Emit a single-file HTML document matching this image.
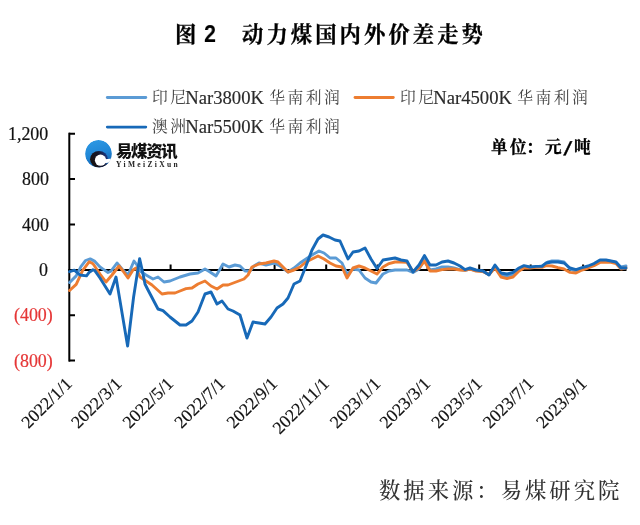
<!DOCTYPE html>
<html lang="zh">
<head>
<meta charset="utf-8">
<title>图2 动力煤国内外价差走势</title>
<style>
html,body{margin:0;padding:0;background:#fff;}
body{width:640px;height:525px;position:relative;overflow:hidden;font-family:"Liberation Serif","Noto Serif CJK SC",serif;}
.abs{position:absolute;white-space:nowrap;line-height:1;will-change:transform;}
.title{font-family:"Liberation Sans","Noto Serif CJK SC",serif;font-weight:700;font-size:21.3px;color:#000;letter-spacing:3.1px;top:25.1px;-webkit-text-stroke:0.3px #000;}
.leg{font-family:"Liberation Serif","Noto Serif CJK SC",serif;font-size:18.67px;color:#2a2a2a;}
.leg .c{font-size:15.8px;letter-spacing:2.4px;font-weight:400;position:absolute;top:1.2px;color:#444;}
.leg .n{position:absolute;top:0;-webkit-text-stroke:0.15px currentColor;}
.ylab{font-family:"Liberation Serif",serif;font-size:17.9px;color:#111;-webkit-text-stroke:0.2px currentColor;right:586.8px;text-align:right;}
.ylab.pos{padding-right:4.8px;}
.ylab.neg{color:#e53535;}
.unit{font-family:"Liberation Sans","Noto Serif CJK SC",serif;font-weight:700;font-size:16.6px;color:#000;letter-spacing:1.6px;-webkit-text-stroke:0.3px #000;}
.src{font-family:"Liberation Serif","Noto Serif CJK SC",serif;font-weight:500;font-size:21.33px;color:#333;letter-spacing:3px;}
.logo1{font-family:"Liberation Sans","Noto Sans CJK SC",sans-serif;font-weight:900;font-size:16.4px;color:#111;letter-spacing:-1.3px;}
.logo2{font-family:"Liberation Serif",serif;font-weight:700;font-size:7.5px;color:#222;letter-spacing:2.35px;}
</style>
</head>
<body>
<div class="abs title" style="left:175px;">图</div>
<div class="abs title" style="left:204px;font-family:'Liberation Sans',sans-serif;font-weight:700;font-size:23.5px;top:22.9px;-webkit-text-stroke:0;transform:scaleX(0.92);transform-origin:0 0;">2</div>
<div class="abs title" style="left:242.3px;">动力煤国内外价差走势</div>

<svg class="abs" style="left:0;top:0;" width="640" height="525" viewBox="0 0 640 525">
  <!-- legend lines -->
  <line x1="107.3" y1="97.5" x2="145.8" y2="97.5" stroke="#5b9bd5" stroke-width="2.8" stroke-linecap="round"/>
  <line x1="355" y1="97.5" x2="393.3" y2="97.5" stroke="#ed7d31" stroke-width="2.8" stroke-linecap="round"/>
  <line x1="107.3" y1="127.1" x2="145.8" y2="127.1" stroke="#1769b8" stroke-width="2.8" stroke-linecap="round"/>
  <!-- axes -->
  <g stroke="#000" stroke-width="2" fill="none">
    <path d="M69.3,132.7 V361.6"/>
    <path d="M69,133.7 H75 M69,179.1 H75 M69,224.5 H75 M69,315.2 H75 M69,360.6 H75"/>
    <path d="M68.3,269.9 H626.5"/>
    <path id="xt" d="M119.1,269.9 v-5.5 M170.6,269.9 v-5.5 M222.2,269.9 v-5.5 M274.6,269.9 v-5.5 M326.2,269.9 v-5.5 M377.7,269.9 v-5.5 M427.6,269.9 v-5.5 M479.2,269.9 v-5.5 M530.7,269.9 v-5.5 M583.1,269.9 v-5.5"/>
  </g>
  <g id="lines" fill="none" stroke-width="2.9" stroke-linejoin="round" stroke-linecap="round">
    <polyline stroke="#5b9bd5" points="69.6,282.5 76.2,275.9 80.9,266.6 85.6,260.5 90.2,258.9 94.9,261.4 100,267 103.4,269.4 108,272.5 111,271.2 117,263 122,269 128,275 134,261 137,265 140,271 146,275 153,279 158,277 164,282 170,281 180,277 190,274 198,273 205,269 210,272 216,276 223,264 229,267 235,265 240,266 245,271 250,271 254,266 259,263 266,265 274,263 280,266 284,269 288,272 294,268 300,263 306,259 312,255 319,251 324,253 330,258 336,258 342,263 347,274 353,269 359,270 365,278 371,282 376,283 383,274 389,271 395,270 401,270 407,270 413,272.4 419,269 424.4,260 430,270 436,269 442,267 448,267 454,268 460,269.6 465,270.4 470,269 476,270.5 483,271.3 489,274.6 495,266.5 501,275 507,276 513,274.5 519,269.5 524,266.5 530,267.5 536,267 542,266 548,262 552,261 558,261 564,262 570,269 576,271 582,268.6 588,267 594,264.6 600,261 606,260.6 611,261.4 616,262.6 621,267 626,266"/>
    <polyline stroke="#ed7d31" points="69.6,290.5 76.2,284.4 82.7,270.3 89.3,261.7 93,263.7 100,274 106,282 112,275 119,266 123,271 128,278 133,270 136,268 140,277 143,279 152,285 162,294 168,293 175,293 180,291 186,288.6 192,288 198,284 205,281 211,286 217,289 223,285 228,285 236,282 244,279 248,275 252,267 259,264 266,263 274,261 278,262 284,268 288,272 294,270 300,267 306,262 312,259 318,256 324,259 330,263 336,266 342,267 347,278 353,268 359,266 365,268 371,271 377,274 383,267 389,263.6 395,262 401,262 407,262.4 413,271.6 419,268 424.4,261 430,271 436,271 442,269.6 448,269 454,269 460,270 465,270.4 470,269 476,271 483,271.6 489,274.4 495,268 501,277 507,278.6 513,277 519,271 524,268 530,268 536,267.4 542,267.4 546,265.6 552,266 558,267.6 564,269 570,272.4 576,273 582,270 588,268 594,265.6 600,262.4 606,262 611,262.4 616,263.6 621,269 626,268"/>
    <polyline stroke="#1769b8" points="69.6,271.7 74.3,270.1 79.9,275 86.5,275.9 89.3,272.2 93,269.8 95,270.8 100,278 110,294 116,277 127.6,346 133.6,297 139.6,258.6 142.4,271 145,284 147.5,289 158,309 163,310.6 170,317 180,325 186,325 192,321 198,312 205,294 211,292 217,304 222,301 228,309 233,311 240,315 247,338 253,322 259,323 265,324 271,317 277,308 283,304 288,298 294,284 300,281 306,266 312,250 318,239 323,235 329,237 335,240 340,241 348,259 353,252 359,251 365,248 371,259 377,268.5 383,260 389,259 395,258 401,260 407,261 413,272 419,265 424.4,255.6 430,265 436,265 442,262 448,261 454,263 460,266 465,269.6 470,268 476,270 483,271 489,275 495,265 501,273 507,274 513,272.4 519,268 524,265.6 530,267 536,266.4 542,266.4 546,263 552,262 558,262 564,263 570,268 576,269.6 582,267.6 588,266 594,263.6 600,260 606,260 611,261 616,262 621,268 626,268"/>
  </g>
  <g id="xl" font-family="Liberation Serif, serif" font-size="17.7" fill="#111" stroke="#111" stroke-width="0.2" text-anchor="end">
    <text x="72.9" y="384.8" transform="rotate(-45 72.9 384.8)">2022/1/1</text>
    <text x="122.8" y="384.8" transform="rotate(-45 122.8 384.8)">2022/3/1</text>
    <text x="174.3" y="384.8" transform="rotate(-45 174.3 384.8)">2022/5/1</text>
    <text x="225.9" y="384.8" transform="rotate(-45 225.9 384.8)">2022/7/1</text>
    <text x="278.3" y="384.8" transform="rotate(-45 278.3 384.8)">2022/9/1</text>
    <text x="329.9" y="384.8" transform="rotate(-45 329.9 384.8)">2022/11/1</text>
    <text x="381.4" y="384.8" transform="rotate(-45 381.4 384.8)">2023/1/1</text>
    <text x="431.3" y="384.8" transform="rotate(-45 431.3 384.8)">2023/3/1</text>
    <text x="482.9" y="384.8" transform="rotate(-45 482.9 384.8)">2023/5/1</text>
    <text x="534.4" y="384.8" transform="rotate(-45 534.4 384.8)">2023/7/1</text>
    <text x="587.8" y="384.8" transform="rotate(-45 587.8 384.8)">2023/9/1</text>
  </g>
  <!-- logo mark -->
  <defs>
    <linearGradient id="lg" x1="0" y1="0" x2="0.3" y2="1">
      <stop offset="0" stop-color="#2f9be6"/><stop offset="0.6" stop-color="#1f86d6"/><stop offset="1" stop-color="#1463b0"/>
    </linearGradient>
  </defs>
  <g id="logo">
    <clipPath id="cd"><ellipse cx="98.5" cy="153.8" rx="13.4" ry="13.8"/></clipPath>
    <linearGradient id="dk" x1="0" y1="0.6" x2="1" y2="0.2">
      <stop offset="0" stop-color="#1a120f"/><stop offset="0.55" stop-color="#15162a"/><stop offset="1" stop-color="#1c3f95"/>
    </linearGradient>
    <g clip-path="url(#cd)">
      <ellipse cx="98.5" cy="153.8" rx="13.4" ry="13.8" fill="url(#lg)"/>
      <ellipse cx="99" cy="159.3" rx="8.9" ry="8.4" fill="url(#dk)"/>
      <path d="M99,167.4 Q106,167 110.4,162 Q106,165.6 99,166 Z" fill="#161a33"/>
      <circle cx="100.5" cy="160.2" r="5.6" fill="#fff"/>
      <path d="M104,159.2 L108,159 L113,158.4 L113,163.6 L110,162.2 L104,163.4 Z" fill="#fff"/>
    </g>
  </g>
</svg>

<div class="abs leg" style="left:152.2px;top:88.8px;"><span class="c" style="left:0">印尼</span><span class="n" style="left:33.2px">Nar3800K</span><span class="c" style="left:117.3px">华南利润</span></div>
<div class="abs leg" style="left:400.3px;top:88.8px;"><span class="c" style="left:0">印尼</span><span class="n" style="left:33.2px">Nar4500K</span><span class="c" style="left:117.3px">华南利润</span></div>
<div class="abs leg" style="left:152.2px;top:117.6px;"><span class="c" style="left:0">澳洲</span><span class="n" style="left:33.2px">Nar5500K</span><span class="c" style="left:117.3px">华南利润</span></div>

<div class="abs unit" style="left:0;top:139.5px;"><span style="position:absolute;left:491px">单</span><span style="position:absolute;left:510px">位</span><span style="position:absolute;left:526px">：</span><span style="position:absolute;left:545px">元</span><span style="position:absolute;left:565.4px;top:-1.5px;font-family:'Liberation Sans',sans-serif;font-weight:700;font-size:19px;transform:skewX(-16deg);">/</span><span style="position:absolute;left:574px">吨</span></div>

<div class="abs logo1" style="left:115.5px;top:143.2px;">易煤资讯</div>
<div class="abs logo2" style="left:115.7px;top:161px;">YiMeiZiXun</div>

<div class="abs ylab pos" style="top:125.9px;">1,200</div>
<div class="abs ylab pos" style="top:171.3px;">800</div>
<div class="abs ylab pos" style="top:216.7px;">400</div>
<div class="abs ylab pos" style="top:262.1px;">0</div>
<div class="abs ylab neg" style="top:307.4px;">(400)</div>
<div class="abs ylab neg" style="top:352.9px;">(800)</div>

<div class="abs src" style="left:379.3px;top:480.8px;">数据来源：易煤研究院</div>
</body>
</html>
